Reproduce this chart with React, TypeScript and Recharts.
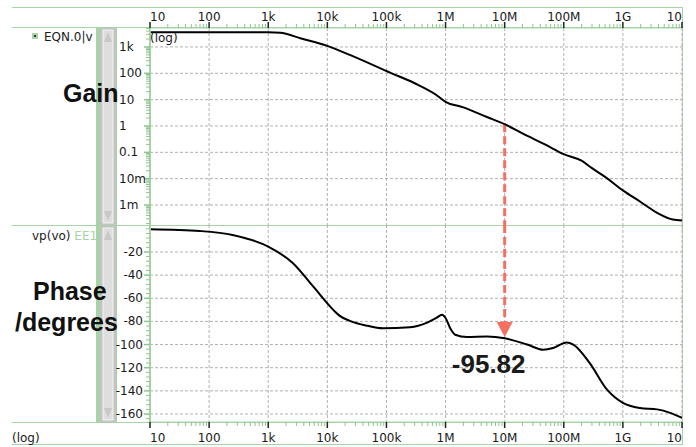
import { LineChart, Line, XAxis, YAxis, CartesianGrid, ReferenceLine, ReferenceDot } from 'recharts'

// frequency axis (Hz), shared by both panels
const FREQ_TICKS = [10, 100, 1e3, 1e4, 1e5, 1e6, 1e7, 1e8, 1e9, 1e10]
const FREQ_LABELS = ['10', '100', '1k', '10k', '100k', '1M', '10M', '100M', '1G', '10']

const GAIN_TICKS = [1e3, 100, 10, 1, 0.1, 0.01, 0.001]
const GAIN_LABELS = ['1k', '100', '10', '1', '0.1', '10m', '1m']

const PHASE_TICKS = [-20, -40, -60, -80, -100, -120, -140, -160]

// |v(vo)|
const GAIN_FREQ = [10, 100, 1e3, 1.6e3, 3.5e3, 1e4, 2.4e4, 1.2e5, 3e5, 7e5, 1e6, 2e6, 5e6, 1e7, 2e7, 5e7, 1e8, 2e8, 3e8, 5e8, 1e9, 2e9, 4e9, 7e9, 1e10]
const GAIN_VALUES = [3630, 3630, 3630, 3470, 2140, 1100, 500, 102, 42, 15, 8.3, 5.1, 2.2, 1.17, 0.52, 0.19, 0.085, 0.048, 0.025, 0.0117, 0.0036, 0.0013, 0.00047, 0.00028, 0.00026]

// vp(vo) in degrees
const PHASE_FREQ = [10, 70, 250, 1e3, 2.6e3, 5.8e3, 1.26e4, 1.6e4, 2.4e4, 4.5e4, 8.7e4, 2.5e5, 4.9e5, 7e5, 8.7e5, 1e6, 1.2e6, 1.45e6, 2.3e6, 5e6, 1e7, 2.4e7, 4.5e7, 6.6e7, 1.12e8, 1.45e8, 2.75e8, 5.4e8, 1e9, 1.95e9, 3.8e9, 6.3e9, 1e10]
const PHASE_VALUES = [-0.3, -1.9, -5.3, -15.4, -29.5, -50, -70, -75, -79.5, -83.5, -86, -85, -81, -77, -74.3, -77, -86, -91.5, -93.5, -93, -94.5, -100, -104.5, -103, -98.2, -100, -116, -139, -150.4, -154.8, -156, -159, -163.4]

// unity-gain marker
const MARK_FREQ = 1e7
const MARK_GAIN = 1.17
const MARK_PHASE = -93.5
const MARK_LABEL = '-95.82'

const FREQ_DOMAIN = [10, 1e10]
const GAIN_DOMAIN = [1.74e-4, 5.25e3]
const PHASE_DOMAIN = [-166.9, 3.3]

const GREEN = '#a6d4a6'
const TICK_GREEN = '#8cc78c'
const RED = '#f7705f'
const GRID = '#b0b0b0'
const TICK_FONT = 'DejaVu Sans, sans-serif'
const BIG_FONT = 'Liberation Sans, Arial, sans-serif'

const gainData = GAIN_FREQ.map((f, i) => ({ f, g: GAIN_VALUES[i] }))
const phaseData = PHASE_FREQ.map((f, i) => ({ f, p: PHASE_VALUES[i] }))

const logMinors = (lo: number, hi: number) => {
  const out: number[] = []
  for (let d = Math.pow(10, Math.floor(Math.log10(lo))); d < hi; d *= 10) {
    for (let k = 2; k <= 9; k++) {
      const v = d * k
      if (v > lo && v < hi) out.push(v)
    }
  }
  return out
}

const freqTicks = [...FREQ_TICKS, ...logMinors(FREQ_DOMAIN[0], FREQ_DOMAIN[1])].sort((a, b) => a - b)
const gainTicks = [...GAIN_TICKS, ...logMinors(GAIN_DOMAIN[0], GAIN_DOMAIN[1])].sort((a, b) => a - b)
const phaseTicks: number[] = []
for (let v = -164; v <= 0; v += 4) phaseTicks.push(v)

const majorIndex = (list: number[], v: number) =>
  list.findIndex((t) => Math.abs(t - v) <= Math.abs(t) * 1e-9)

function FreqTick(props: any) {
  const { x, y, payload, orientation } = props
  const up = orientation === 'top'
  const i = majorIndex(FREQ_TICKS, payload.value)
  if (i < 0) {
    return <line x1={x} x2={x} y1={y} y2={up ? y - 4 : y + 4} stroke={TICK_GREEN} strokeWidth={1} />
  }
  const anchor = i === 0 ? 'start' : i === FREQ_TICKS.length - 1 ? 'end' : 'middle'
  return (
    <g>
      <line x1={x} x2={x} y1={y} y2={up ? y - 6 : y + 6} stroke="#222" strokeWidth={1.5} />
      <text
        x={x}
        y={up ? y - 7 : y + 20}
        textAnchor={anchor}
        fontFamily={TICK_FONT}
        fontSize={12}
        fill="#1a1a1a"
      >
        {FREQ_LABELS[i]}
      </text>
    </g>
  )
}

function GainTick(props: any) {
  const { x, y, payload } = props
  const i = majorIndex(GAIN_TICKS, payload.value)
  if (i < 0) return <line x1={x - 4} x2={x} y1={y} y2={y} stroke={TICK_GREEN} />
  return (
    <g>
      <line x1={x - 6} x2={x} y1={y} y2={y} stroke={TICK_GREEN} strokeWidth={1.5} />
      <text x={x - 31} y={y + 4} textAnchor="start" fontFamily={TICK_FONT} fontSize={12} fill="#1a1a1a">
        {GAIN_LABELS[i]}
      </text>
    </g>
  )
}

function PhaseTick(props: any) {
  const { x, y, payload } = props
  const major = PHASE_TICKS.includes(payload.value)
  if (!major) return <line x1={x - 4} x2={x} y1={y} y2={y} stroke={TICK_GREEN} />
  return (
    <g>
      <line x1={x - 6} x2={x} y1={y} y2={y} stroke={TICK_GREEN} strokeWidth={1.5} />
      <text x={x - 7} y={y + 4} textAnchor="end" fontFamily={TICK_FONT} fontSize={12} fill="#1a1a1a">
        {payload.value}
      </text>
    </g>
  )
}

function ArrowHead(props: any) {
  const { cx, cy } = props
  return (
    <g>
      <polygon points={`${cx - 8},${cy - 15} ${cx + 8},${cy - 15} ${cx},${cy}`} fill={RED} />
      <text
        x={cx - 16}
        y={cy + 36}
        textAnchor="middle"
        fontFamily={BIG_FONT}
        fontWeight="bold"
        fontSize={26}
        fill="#1a1a1a"
      >
        {MARK_LABEL}
      </text>
    </g>
  )
}

function Scrollbar({ top, bottom }: { top: number; bottom: number }) {
  return (
    <g>
      <rect x={96} y={top} width={4} height={bottom - top} fill={GREEN} />
      <rect x={100} y={top} width={16} height={bottom - top} fill="#c3c3c3" />
      <rect x={103} y={top + 2} width={10} height={bottom - top - 4} fill="#dedede" stroke="#f4f4f4" />
      <polygon points={`104,${top + 14} 112,${top + 14} 108,${top + 4}`} fill="#c8c8c8" />
      <polygon points={`104,${bottom - 14} 112,${bottom - 14} 108,${bottom - 4}`} fill="#c8c8c8" />
      <line x1={116.5} x2={116.5} y1={top} y2={bottom} stroke={GREEN} />
    </g>
  )
}

export default function App() {
  return (
    <div style={{ position: 'absolute', left: 0, top: 0, width: 696, height: 447, background: '#fff' }}>
      <svg width={696} height={447} style={{ position: 'absolute', left: 0, top: 0 }}>
        <line x1={12} x2={682} y1={7.5} y2={7.5} stroke={GREEN} />
        <line x1={12} x2={682} y1={27.5} y2={27.5} stroke={GREEN} />
        <line x1={12} x2={682} y1={225.5} y2={225.5} stroke={GREEN} />
        <line x1={12} x2={682} y1={422.5} y2={422.5} stroke={GREEN} />
        <line x1={12} x2={682} y1={444.5} y2={444.5} stroke={GREEN} />
        <line x1={682.5} x2={682.5} y1={7} y2={445} stroke={GREEN} />
        <Scrollbar top={28} bottom={225} />
        <Scrollbar top={226} bottom={422} />
        <rect x={32} y={33} width={6} height={6} fill={GREEN} />
        <rect x={34} y={35} width={2} height={2} fill="#333" />
        <text x={44} y={41} fontFamily={TICK_FONT} fontSize={12} fill="#1a1a1a">
          EQN.0|v
        </text>
        <text x={32} y={240} fontFamily={TICK_FONT} fontSize={12} fill="#1a1a1a">
          vp(vo) <tspan fill={GREEN}>EE1</tspan>
        </text>
        <text x={12} y={442} fontFamily={TICK_FONT} fontSize={12} fill="#1a1a1a">
          (log)
        </text>
      </svg>

      <div style={{ position: 'absolute', left: 0, top: 0 }}>
        <LineChart width={696} height={225} data={gainData} margin={{ top: 8, right: 14, bottom: 0, left: 110 }}>
          <CartesianGrid
            stroke={GRID}
            strokeDasharray="3 2"
            verticalValues={FREQ_TICKS}
            horizontalValues={GAIN_TICKS}
          />
          <XAxis
            dataKey="f"
            type="number"
            scale="log"
            domain={FREQ_DOMAIN}
            allowDataOverflow
            orientation="top"
            height={20}
            ticks={freqTicks}
            interval={0}
            tickSize={0}
            tickMargin={0}
            tick={<FreqTick />}
            axisLine={{ stroke: GREEN }}
          />
          <YAxis
            type="number"
            scale="log"
            domain={GAIN_DOMAIN}
            allowDataOverflow
            width={40}
            ticks={gainTicks}
            interval={0}
            tickSize={0}
            tickMargin={0}
            tick={<GainTick />}
            axisLine={{ stroke: GREEN, strokeWidth: 2 }}
          />
          <ReferenceLine
            segment={[
              { x: MARK_FREQ, y: MARK_GAIN },
              { x: MARK_FREQ, y: GAIN_DOMAIN[0] },
            ]}
            stroke={RED}
            strokeWidth={3}
            strokeDasharray="8 4"
          />
          <Line
            type="monotone"
            dataKey="g"
            stroke="#000"
            strokeWidth={2}
            dot={false}
            isAnimationActive={false}
          />
        </LineChart>
      </div>

      <div style={{ position: 'absolute', left: 0, top: 225 }}>
        <LineChart width={696} height={222} data={phaseData} margin={{ top: 0, right: 14, bottom: 5, left: 110 }}>
          <CartesianGrid
            stroke={GRID}
            strokeDasharray="3 2"
            verticalValues={FREQ_TICKS}
            horizontalValues={PHASE_TICKS}
          />
          <XAxis
            dataKey="f"
            type="number"
            scale="log"
            domain={FREQ_DOMAIN}
            allowDataOverflow
            orientation="bottom"
            height={20}
            ticks={freqTicks}
            interval={0}
            tickSize={0}
            tickMargin={0}
            tick={<FreqTick />}
            axisLine={{ stroke: GREEN }}
          />
          <YAxis
            type="number"
            domain={PHASE_DOMAIN}
            allowDataOverflow
            width={40}
            ticks={phaseTicks}
            interval={0}
            tickSize={0}
            tickMargin={0}
            tick={<PhaseTick />}
            axisLine={{ stroke: GREEN, strokeWidth: 2 }}
          />
          <ReferenceLine
            segment={[
              { x: MARK_FREQ, y: PHASE_DOMAIN[1] },
              { x: MARK_FREQ, y: MARK_PHASE + 10 },
            ]}
            stroke={RED}
            strokeWidth={3}
            strokeDasharray="8 4"
          />
          <Line
            type="monotone"
            dataKey="p"
            stroke="#000"
            strokeWidth={2}
            dot={false}
            isAnimationActive={false}
          />
          <ReferenceDot x={MARK_FREQ} y={MARK_PHASE} r={0} shape={<ArrowHead />} />
        </LineChart>
      </div>

      <svg width={696} height={447} style={{ position: 'absolute', left: 0, top: 0, pointerEvents: 'none' }}>
        <text x={150} y={42} fontFamily={TICK_FONT} fontSize={12} fill="#1a1a1a">
          (log)
        </text>
        <text x={63} y={102} fontFamily={BIG_FONT} fontWeight="bold" fontSize={25} fill="#111">
          Gain
        </text>
        <text x={33} y={300} fontFamily={BIG_FONT} fontWeight="bold" fontSize={25} fill="#111">
          Phase
        </text>
        <text x={15} y={331} fontFamily={BIG_FONT} fontWeight="bold" fontSize={25} fill="#111">
          /degrees
        </text>
      </svg>
    </div>
  )
}
